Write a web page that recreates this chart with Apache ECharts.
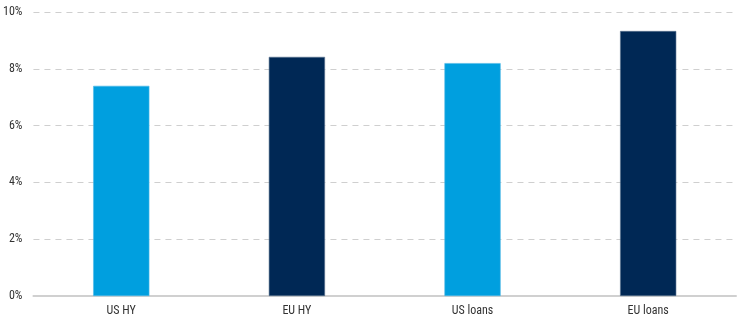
<!DOCTYPE html>
<html>
<head>
<meta charset="utf-8">
<script src="https://cdn.jsdelivr.net/npm/echarts@6/dist/echarts.min.js"></script>
<style>
  html, body { margin: 0; padding: 0; background: #fff; }
  #chart { width: 737px; height: 325px; }
</style>
</head>
<body>
<div id="chart"></div>
<script>
// Yield by market segment (%)
const categories = ['US HY', 'EU HY', 'US loans', 'EU loans'];
const values = [7.4, 8.42, 8.2, 9.33];
const barColors = ['#009fdf', '#002855', '#009fdf', '#002855'];
const borderColors = ['#4fb9e8', '#5a7391', '#4fb9e8', '#5a7391'];

const FONT = '"Liberation Sans Narrow", "Roboto Condensed", Roboto, sans-serif';

const chart = echarts.init(document.getElementById('chart'), null, { renderer: 'canvas' });
chart.setOption({
  animation: false,
  grid: { left: 33, right: 1, top: 12, bottom: 29, containLabel: false },
  xAxis: {
    type: 'category',
    data: categories,
    axisTick: { show: false },
    axisLine: { lineStyle: { color: '#d0d0d0', width: 2 } },
    axisLabel: { color: '#333', fontFamily: FONT, fontSize: 12, margin: 9 }
  },
  yAxis: {
    type: 'value',
    min: 0,
    max: 10,
    interval: 2,
    axisLine: { show: false },
    axisTick: { show: false },
    axisLabel: { color: '#333', fontFamily: FONT, fontSize: 12, margin: 11, formatter: '{value}%' },
    splitLine: { lineStyle: { color: '#cfcfcf', type: [6, 5], width: 1 } }
  },
  series: [{
    type: 'bar',
    barWidth: '32%',
    data: values.map((v, i) => ({
      value: v,
      itemStyle: { color: barColors[i], borderColor: borderColors[i], borderWidth: 0.6 }
    }))
  }]
});
</script>
</body>
</html>
